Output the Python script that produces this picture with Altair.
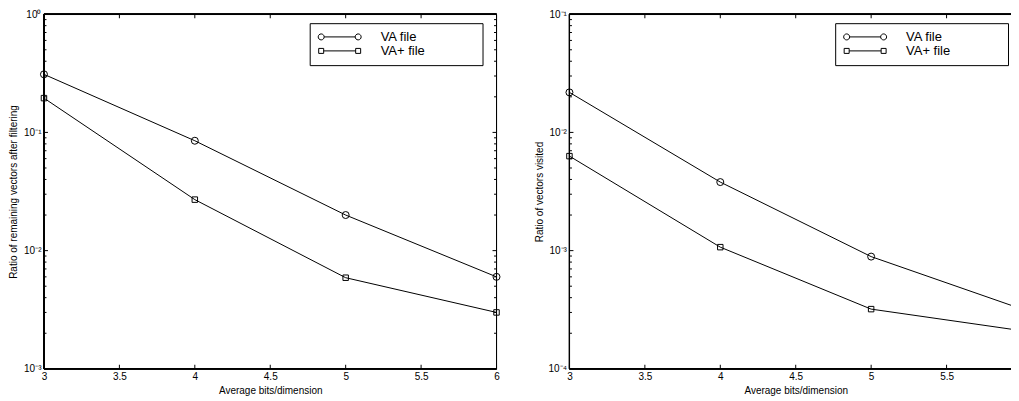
import altair as alt
import pandas as pd

# ---------------- data ----------------
x_vals = [3, 4, 5, 6]
series_names = ["VA file", "VA+ file"]

left_va = [0.31, 0.085, 0.020, 0.006]
left_vaplus = [0.195, 0.027, 0.0059, 0.0030]

right_va = [0.0218, 0.0038, 0.00089, 0.00032]
right_vaplus = [0.0063, 0.00107, 0.00032, 0.00021]

x_title = "Average bits/dimension"
left_y_title = "Ratio of remaining vectors after filtering"
right_y_title = "Ratio of vectors visited"

x_ticks_left = [3, 3.5, 4, 4.5, 5, 5.5, 6]
x_ticks_right = [3, 3.5, 4, 4.5, 5, 5.5]
left_decades = [0.001, 0.01, 0.1, 1]
right_decades = [0.0001, 0.001, 0.01, 0.1]
minor_mult = [2, 3, 4, 5, 6, 7, 8, 9]

FONT = "Liberation Sans"


def circle_path(cx, r):
    k = 0.5523 * r
    return (f"M{cx + r},0 C{cx + r},{k} {cx + k},{r} {cx},{r} "
            f"C{cx - k},{r} {cx - r},{k} {cx - r},0 "
            f"C{cx - r},{-k} {cx - k},{-r} {cx},{-r} "
            f"C{cx + k},{-r} {cx + r},{-k} {cx + r},0 Z")


def square_path(cx, h):
    return f"M{cx - h},{-h} L{cx + h},{-h} L{cx + h},{h} L{cx - h},{h} Z"


# legend symbols: a line with a marker at both ends (MATLAB style)
RC, RS = 0.162, 0.135
LEG_CIRCLE = circle_path(-1, RC) + f" M{-1 + RC},0 L{1 - RC},0 " + circle_path(1, RC)
LEG_SQUARE = square_path(-1, RS) + f" M{-1 + RS},0 L{1 - RS},0 " + square_path(1, RS)

Y_LABEL_EXPR = ("'10' + (datum.value < 0.9 ? '\u207b' : '') + "
                "['\u2070','\u00b9','\u00b2','\u00b3','\u2074'][abs(round(log(datum.value)/LN10))]")

# invisible trailing room so the legend box is as wide as in the reference
PAD = "\u00a0" * 14 + "\u200b"


def panel(va, vap, decades, width, height, y_title, x_ticks, full_right):
    df = pd.DataFrame({
        "x": x_vals * 2,
        "y": va + vap,
        "series": [series_names[0]] * len(x_vals) + [series_names[1]] * len(x_vals),
    })
    y_min, y_max = decades[0], decades[-1]
    minor = [m * d for d in decades[:-1] for m in minor_mult]

    xs = alt.Scale(domain=[3, 6], nice=False, zero=False)
    ys = alt.Scale(type="log", domain=[y_min, y_max], nice=False)
    x_axis = alt.Axis(
        values=x_ticks, title=x_title, ticks=False, domain=False, grid=False,
        labelFlush=False, labelPadding=3, labelBaseline="top",
        titleY=25, titleBaseline="alphabetic", format="~g")
    y_axis = alt.Axis(
        values=decades, title=y_title, ticks=False, domain=False, grid=False,
        labelFlush=False, labelPadding=3, labelExpr=Y_LABEL_EXPR,
        titleX=-30, titleBaseline="middle")

    def fx():
        return alt.X("x:Q", scale=xs, axis=x_axis)

    def fy():
        return alt.Y("y:Q", scale=ys, axis=y_axis)

    def dx(v):
        return alt.XDatum(v, scale=xs, axis=x_axis)

    def dy(v):
        return alt.YDatum(v, scale=ys, axis=y_axis)

    base = alt.Chart(df)
    pts = base if full_right else base.transform_filter("datum.x < 6")

    lines = base.mark_line(color="black", strokeWidth=1).encode(
        x=fx(), y=fy(), detail="series:N", order="x:Q")

    circles = pts.transform_filter(alt.datum.series == series_names[0]).mark_point(
        shape="circle", size=49, color="black", filled=False, opacity=1,
        strokeWidth=1).encode(x=fx(), y=fy())

    squares = pts.transform_filter(alt.datum.series == series_names[1]).mark_point(
        shape="square", size=30, color="black", filled=False, opacity=1,
        strokeWidth=1).encode(x=fx(), y=fy())

    legend_layer = base.transform_filter("datum.x < 0").mark_point(
        color="black", filled=False, opacity=1, strokeWidth=1).encode(
        x=fx(), y=fy(),
        shape=alt.Shape("series:N",
                        scale=alt.Scale(domain=series_names, range=[LEG_CIRCLE, LEG_SQUARE]),
                        legend=alt.Legend(
                            orient="none", legendX=266, legendY=9, title=None,
                            clipHeight=13.5, rowPadding=0, padding=7,
                            symbolOffset=4, labelOffset=22,
                            labelFontSize=13, labelFont=FONT, labelColor="black",
                            symbolSize=1369, symbolStrokeWidth=1,
                            symbolStrokeColor="black", symbolFillColor="transparent",
                            strokeColor="black", fillColor="white",
                            labelExpr=f"datum.label + '{PAD}'")))

    rule_style = dict(color="black", strokeWidth=1)
    frame = [
        alt.Chart(df).mark_rule(**rule_style).encode(y=dy(y_min)),
        alt.Chart(df).mark_rule(**rule_style).encode(y=dy(y_max)),
        alt.Chart(df).mark_rule(**rule_style).encode(x=dx(3)),
    ]
    if full_right:
        frame.append(alt.Chart(df).mark_rule(**rule_style).encode(x=dx(6)))

    # inward ticks on the sides
    xt = pd.DataFrame({"x": x_ticks})
    yt = pd.DataFrame({"y": decades})
    ym = pd.DataFrame({"y": minor})
    ts = dict(color="black", thickness=1, opacity=1)
    MAJ, MIN = 4, 2.5
    ticks = [
        alt.Chart(xt).mark_tick(orient="vertical", size=MAJ, yOffset=-MAJ / 2, **ts).encode(
            x=fx(), y=dy(y_min)),
        alt.Chart(xt).mark_tick(orient="vertical", size=MAJ, yOffset=MAJ / 2, **ts).encode(
            x=fx(), y=dy(y_max)),
        alt.Chart(yt).mark_tick(orient="horizontal", size=MAJ, xOffset=MAJ / 2, **ts).encode(
            y=fy(), x=dx(3)),
        alt.Chart(ym).mark_tick(orient="horizontal", size=MIN, xOffset=MIN / 2, **ts).encode(
            y=fy(), x=dx(3)),
    ]
    if full_right:
        ticks += [
            alt.Chart(yt).mark_tick(orient="horizontal", size=MAJ, xOffset=-MAJ / 2, **ts).encode(
                y=fy(), x=dx(6)),
            alt.Chart(ym).mark_tick(orient="horizontal", size=MIN, xOffset=-MIN / 2, **ts).encode(
                y=fy(), x=dx(6)),
        ]

    return alt.layer(lines, *frame, *ticks, circles, squares, legend_layer).properties(
        width=width, height=height)


left = panel(left_va, left_vaplus, left_decades, 453, 355, left_y_title, x_ticks_left, True)
right = panel(right_va, right_vaplus, right_decades, 453, 355, right_y_title, x_ticks_right, False)

# the right panel runs past the page edge, as in the reference: trim it with a negative right padding
chart = (
    alt.hconcat(left, right, spacing=73, bounds="flush")
    .resolve_scale(x="independent", y="independent", shape="independent")
    .resolve_legend(shape="independent")
    .properties(padding={"left": 0, "top": 0, "right": -14, "bottom": 0}, background="white")
    .configure_view(strokeWidth=0, fill="white")
    .configure(font=FONT)
    .configure_axis(labelFont=FONT, titleFont=FONT, labelFontSize=10, titleFontSize=10,
                    labelColor="black", titleColor="black", titleFontWeight="normal")
)

chart.save("out.html", embed_options={"renderer": "svg", "actions": False})
